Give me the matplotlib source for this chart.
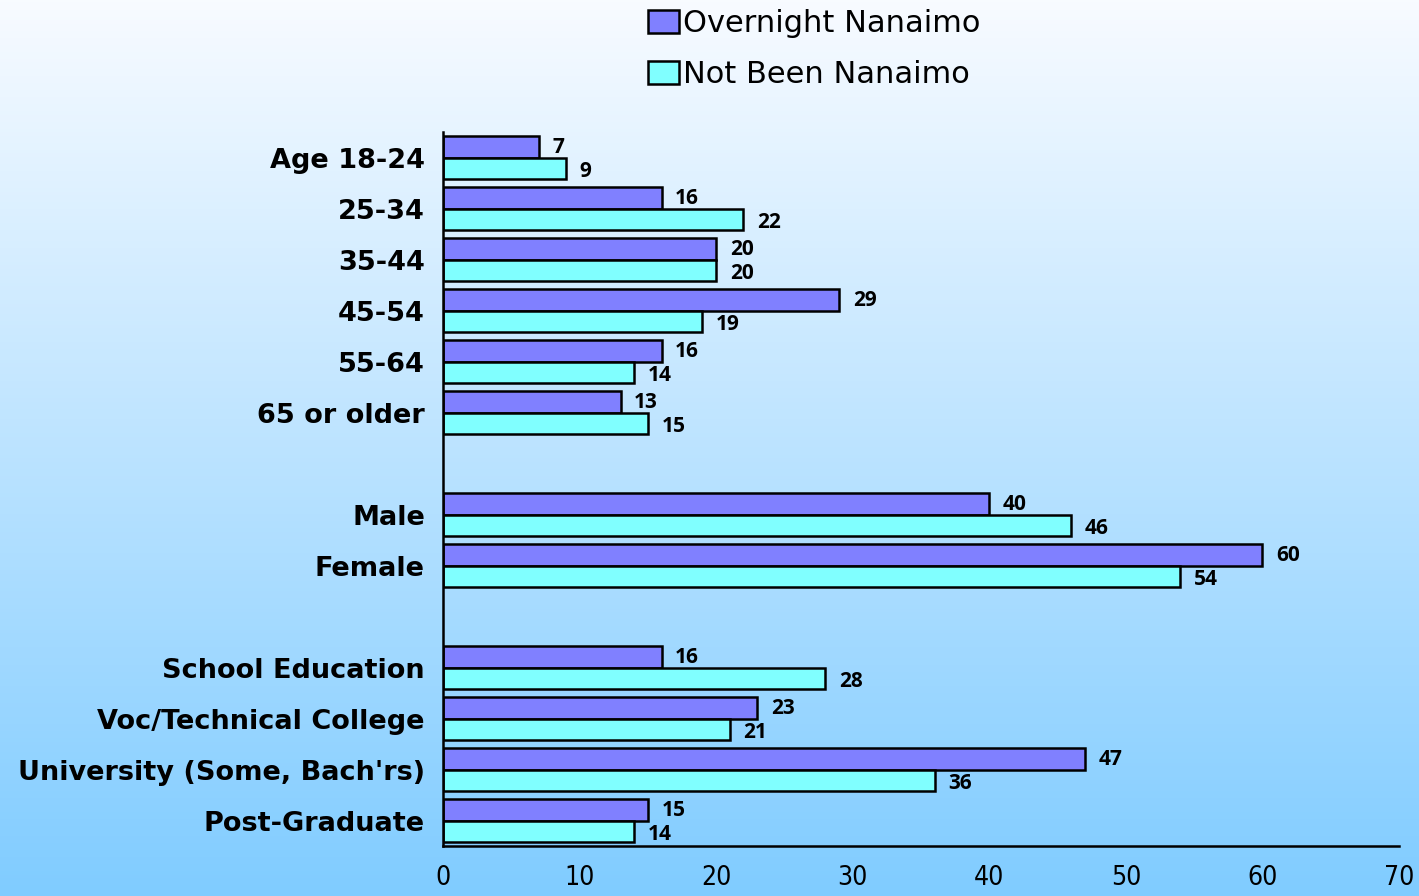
import numpy as np
import matplotlib.pyplot as plt
from matplotlib.patches import Patch

# Dados
categorias = ['Age 18-24', '25-34', '35-44', '45-54', '55-64', '65 or older',
              'Male', 'Female',
              'School Education', 'Voc/Technical College',
              "University (Some, Bach'rs)", 'Post-Graduate']
linhas = [0, 1, 2, 3, 4, 5, 7, 8, 10, 11, 12, 13]
overnight = [7, 16, 20, 29, 16, 13, 40, 60, 16, 23, 47, 15]
not_been = [9, 22, 20, 19, 14, 15, 46, 54, 28, 21, 36, 14]
xticks = [0, 10, 20, 30, 40, 50, 60, 70]

cor_over = '#8080ff'
cor_not = '#80ffff'

fig = plt.figure(figsize=(14.19, 8.96), dpi=100)

# Fundo em gradiente (branco -> azul claro)
bg = fig.add_axes([0, 0, 1, 1], zorder=-10)
topo = np.array([248, 251, 255]) / 255
base = np.array([128, 204, 255]) / 255
t = np.linspace(0, 1, 256)[:, None]
grad = topo + (base - topo) * t
bg.imshow(grad[:, None, :].repeat(2, axis=1), aspect='auto', extent=[0, 1, 0, 1])
bg.axis('off')

ax = fig.add_axes([443/1419, 1 - 846/896, (1399-443)/1419, (846-132)/896])
ax.patch.set_alpha(0)

y = np.array(linhas, dtype=float)
h = 0.43
ax.barh(y - h/2, overnight, height=h, color=cor_over, edgecolor='black', linewidth=1.8)
ax.barh(y + h/2, not_been, height=h, color=cor_not, edgecolor='black', linewidth=1.8)

for yi, v in zip(y, overnight):
    ax.text(v + 1.0, yi - h/2 + 0.02, str(v), va='center', ha='left',
            fontsize=15, fontweight='bold', family='Open Sans')
for yi, v in zip(y, not_been):
    ax.text(v + 1.0, yi + h/2 + 0.06, str(v), va='center', ha='left',
            fontsize=15, fontweight='bold', family='Open Sans')

ax.set_xlim(0, 70)
ax.set_ylim(13.5, -0.5)
ax.set_xticks(xticks)
ax.set_xticklabels([str(x) for x in xticks], fontsize=19, family='DejaVu Sans',
                   fontstretch='condensed')
ax.set_yticks(y)
ax.set_yticklabels(categorias, fontsize=19.5, fontweight='bold', family='DejaVu Sans')
ax.tick_params(axis='both', length=0)
ax.tick_params(axis='x', pad=14)
ax.tick_params(axis='y', pad=13)
for s in ['top', 'right']:
    ax.spines[s].set_visible(False)
for s in ['left', 'bottom']:
    ax.spines[s].set_linewidth(1.8)

# Legenda
handles = [Patch(facecolor=cor_over, edgecolor='black', linewidth=1.8, label='Overnight Nanaimo'),
           Patch(facecolor=cor_not, edgecolor='black', linewidth=1.8, label='Not Been Nanaimo')]
fig.legend(handles=handles, loc='upper left', bbox_to_anchor=(630/1419, 1 + 9/896),
           frameon=False, fontsize=22, handlelength=1.0, handleheight=0.75,
           handletextpad=0.15, labelspacing=0.72, borderaxespad=0.2)

plt.savefig('out.png', dpi=100)
